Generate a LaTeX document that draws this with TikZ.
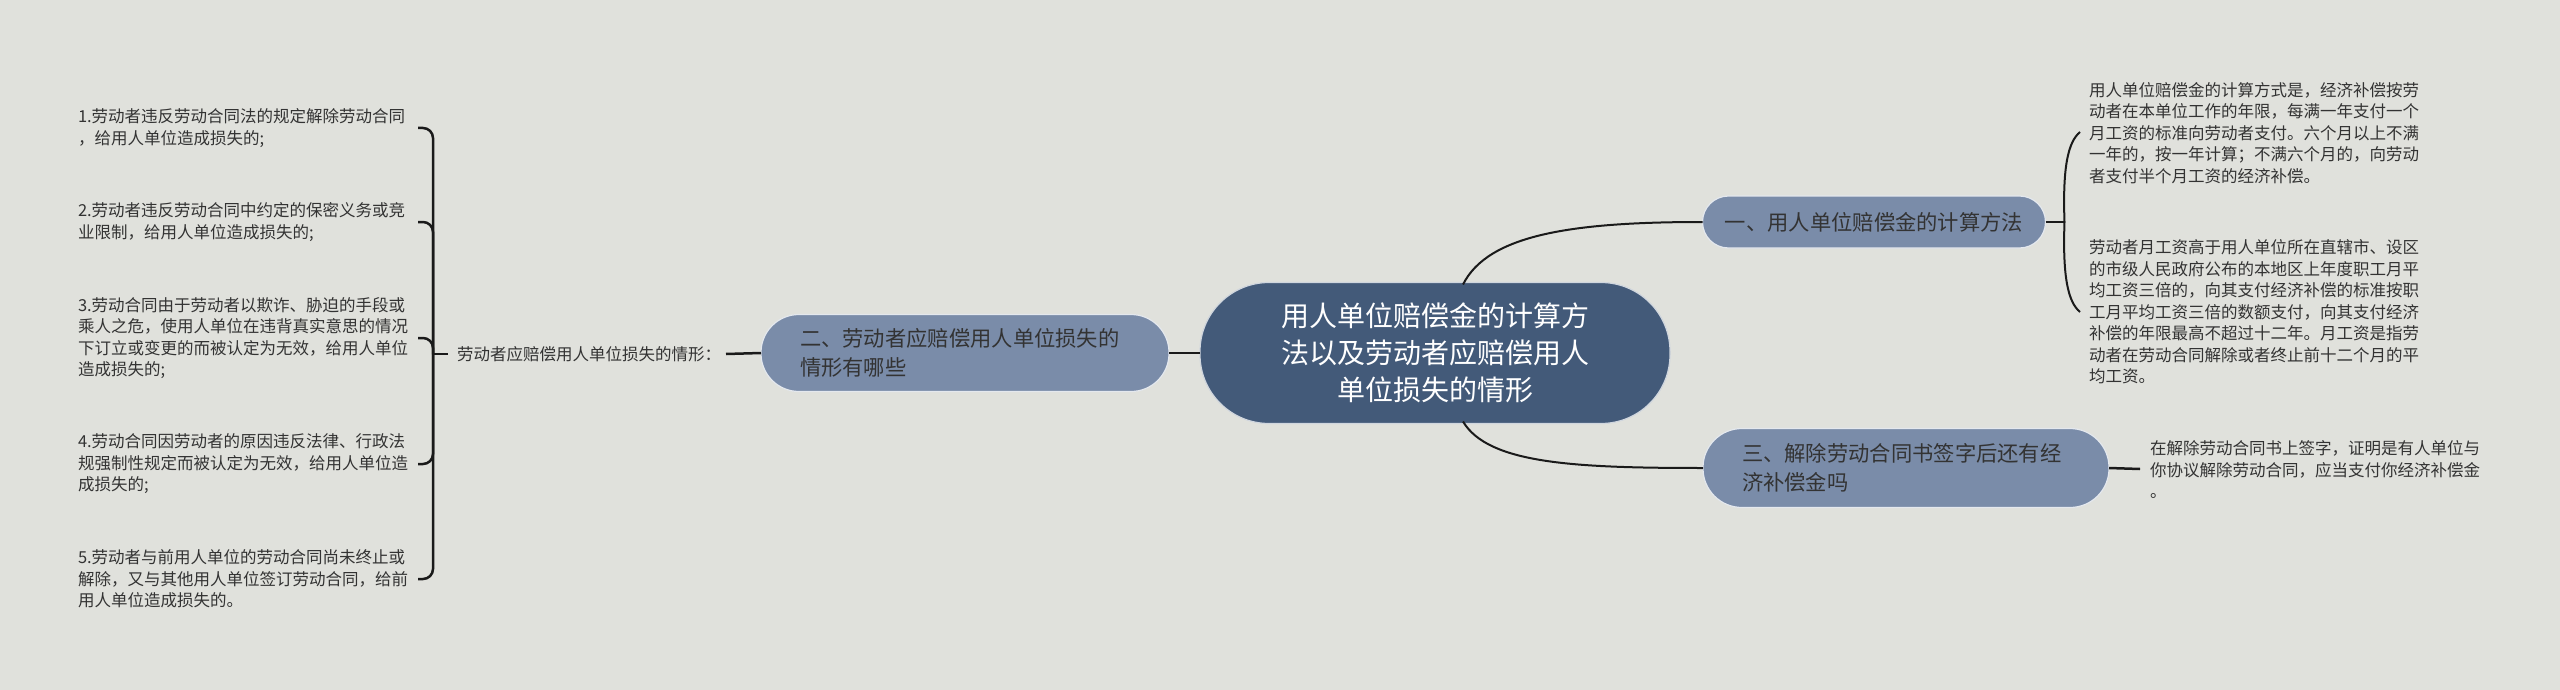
\documentclass[tikz,border=0pt]{standalone}
\usepackage{fontspec}
\setmainfont{Noto Sans CJK SC}
\usetikzlibrary{calc}
\definecolor{bg}{HTML}{E0E1DC}
\definecolor{central}{HTML}{435A79}
\definecolor{branch}{HTML}{7A8CA9}
\definecolor{txt}{HTML}{333333}
\definecolor{ln}{HTML}{1A1A1A}
\begin{document}
\begin{tikzpicture}[x=1pt,y=-1pt,
  every node/.style={inner sep=0pt, outer sep=0pt},
  leaf/.style={anchor=west, align=left, text=txt, font=\fontsize{16.5}{21.5}\selectfont},
  branchbox/.style={fill=branch, draw=white!80!branch, line width=1.2pt, text=txt,
     font=\fontsize{21.3}{29}\selectfont},
  centralbox/.style={fill=central, draw=white!75!central, line width=1.2pt, text=white,
     font=\fontsize{28}{37}\selectfont, align=center},
  link/.style={draw=ln, line width=2pt},
  brace/.style={draw=ln, line width=2.5pt, rounded corners=10pt}]
\fill[bg] (0,0) rectangle (2560,690);
\useasboundingbox (0,0) rectangle (2560,690);

% central
\node[centralbox, minimum width=470pt, minimum height=141pt, rounded corners=69pt] (c) at (1435,353)
  {用人单位赔偿金的计算方\\法以及劳动者应赔偿用人\\单位损失的情形};

% branches
\node[branchbox, minimum width=343pt, minimum height=52pt, rounded corners=26pt] (n1) at (1874,222)
  {一、用人单位赔偿金的计算方法};
\node[branchbox, align=left, text width=330pt, inner xsep=39pt, minimum height=77pt, rounded corners=38pt] (n2) at (965,353)
  {二、劳动者应赔偿用人单位损失的\\情形有哪些};
\node[branchbox, align=left, text width=328pt, inner xsep=39pt, minimum height=79pt, rounded corners=39pt] (n3) at (1906,468)
  {三、解除劳动合同书签字后还有经\\济补偿金吗};

% left side
\node[leaf] (lbl) at (457,354) {劳动者应赔偿用人单位损失的情形：};
\node[leaf] (i1) at (78,128) {1.劳动者违反劳动合同法的规定解除劳动合同\\，给用人单位造成损失的;};
\node[leaf] (i2) at (78,222) {2.劳动者违反劳动合同中约定的保密义务或竞\\业限制，给用人单位造成损失的;};
\node[leaf] (i3) at (78,338) {3.劳动合同由于劳动者以欺诈、胁迫的手段或\\乘人之危，使用人单位在违背真实意思的情况\\下订立或变更的而被认定为无效，给用人单位\\造成损失的;};
\node[leaf] (i4) at (78,464) {4.劳动合同因劳动者的原因违反法律、行政法\\规强制性规定而被认定为无效，给用人单位造\\成损失的;};
\node[leaf] (i5) at (78,579) {5.劳动者与前用人单位的劳动合同尚未终止或\\解除，又与其他用人单位签订劳动合同，给前\\用人单位造成损失的。};

% right side
\node[leaf] (r1) at (2089,133) {用人单位赔偿金的计算方式是，经济补偿按劳\\动者在本单位工作的年限，每满一年支付一个\\月工资的标准向劳动者支付。六个月以上不满\\一年的，按一年计算；不满六个月的，向劳动\\者支付半个月工资的经济补偿。};
\node[leaf] (r2) at (2089,312) {劳动者月工资高于用人单位所在直辖市、设区\\的市级人民政府公布的本地区上年度职工月平\\均工资三倍的，向其支付经济补偿的标准按职\\工月平均工资三倍的数额支付，向其支付经济\\补偿的年限最高不超过十二年。月工资是指劳\\动者在劳动合同解除或者终止前十二个月的平\\均工资。};
\node[leaf] (r3) at (2150,470) {在解除劳动合同书上签字，证明是有人单位与\\你协议解除劳动合同，应当支付你经济补偿金\\。};

% connectors: center
\draw[link] (c.west) -- (n2.east);
\coordinate (s1) at ($(c.north)+(28,2)$);
\coordinate (s2) at ($(c.south)+(28,-2)$);
\draw[link] (s1) .. controls ($(s1)+(25,-50)$) and ($(n1.west)+(-130,0)$) .. (n1.west);
\draw[link] (s2) .. controls ($(s2)+(25,42)$) and ($(n3.west)+(-130,0)$) .. (n3.west);

% left bracket
\draw[link, line width=2.5pt] (n2.west) -- ($(lbl.east)+(5,0)$);
\coordinate (lb) at ($(lbl.west)+(-24,0)$);
\draw[link, line width=2.5pt] (lbl.west) ++(-9,0) -- (lb);
\foreach \i in {i1,i2,i3,i4,i5}{
  \draw[brace] ($(\i.west)+(340,0)$) -- ($(\i.west)+(355,0)$) -- (lb);
}

% right bracket for n1
\coordinate (b1) at ($(n1.east)+(19,0)$);
\draw[link] (n1.east) -- (b1);
\draw[link] (b1) .. controls ($(b1)+(-2,-55)$) and ($(r1.west)+(-21,9)$) .. ($(r1.west)+(-9,-1)$);
\draw[link] (b1) .. controls ($(b1)+(-2,55)$) and ($(r2.west)+(-21,-10)$) .. ($(r2.west)+(-9,0)$);

% n3 to text
\draw[link, line width=2.5pt] (n3.east) -- ($(r3.west)+(-10,-1)$);
\end{tikzpicture}
\end{document}
